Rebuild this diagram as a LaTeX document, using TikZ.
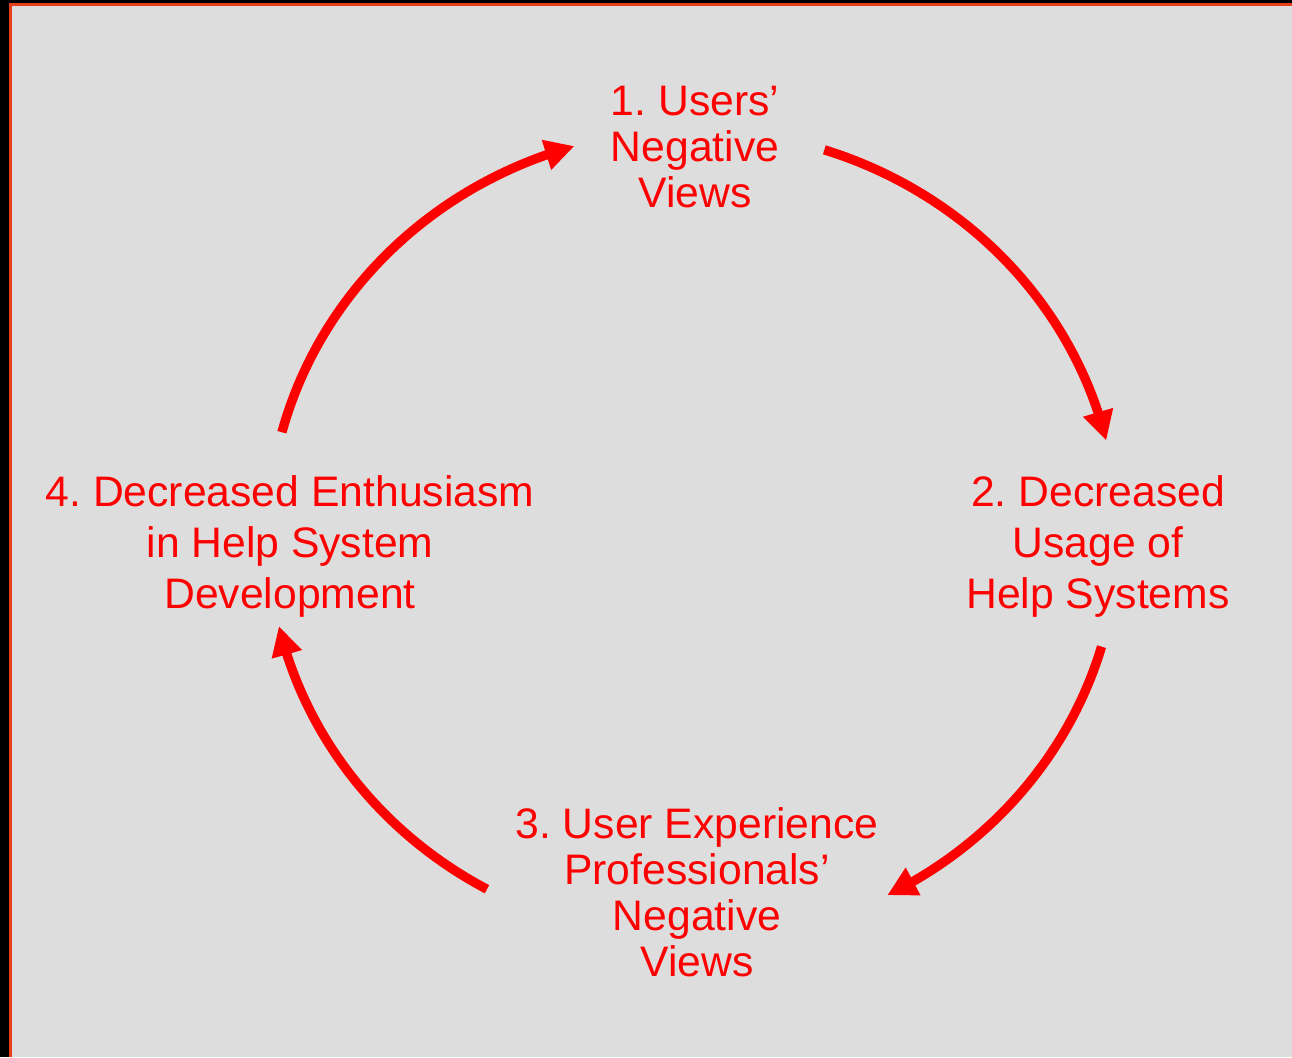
\documentclass[tikz,border=0pt]{standalone}
\usepackage{fontspec}
\setmainfont{Liberation Sans}
\frenchspacing
\usetikzlibrary{arrows.meta,bending}
\definecolor{slidegray}{HTML}{DDDDDD}
\definecolor{framered}{RGB}{230,62,24}
\definecolor{cyclered}{HTML}{FF0000}
\begin{document}
\begin{tikzpicture}[x=0.75pt,y=-0.75pt,
  stage/.style={text=cyclered, font=\fontsize{32}{34.5}\selectfont,
    align=center, inner sep=0pt, anchor=north},
  widestage/.style={stage, font=\fontsize{32}{38.25}\selectfont},
  loopedge/.style={draw=cyclered, line width=7pt,
    -{Triangle[length=22pt,width=22pt]}}]
\useasboundingbox (0,0) rectangle (1292,1057);
% slide background with its frame
\fill[black] (0,0) rectangle (1292,1057);
\fill[framered] (9,3) rectangle (1292,1057);
\fill[slidegray] (12,6) rectangle (1292,1057);

% the four stages of the cycle
\node[stage] (views) at (695,86) {1. Users'\\Negative\\Views};
\node[widestage] (usage) at (1098,475) {2. Decreased\\Usage of\\Help Systems};
\node[stage] (uxviews) at (697,807) {3. User Experience\\Professionals'\\Negative\\Views};
\node[widestage] (enthus) at (290,475) {4. Decreased Enthusiasm\\in Help System\\Development};

% centre of the loop
\coordinate (hub) at (693,535);

% arcs between the stages
\draw[loopedge] ([shift={(-72:425 and 405)}]hub)
  arc[start angle=-72, end angle=-13.5, x radius=425, y radius=405];
\draw[loopedge] ([shift={(16:425 and 405)}]hub)
  arc[start angle=16, end angle=62.8, x radius=425, y radius=405];
\draw[loopedge] ([shift={(119:425 and 405)}]hub)
  arc[start angle=119, end angle=167, x radius=425, y radius=405];
\draw[loopedge] ([shift={(194.7:425 and 405)}]hub)
  arc[start angle=194.7, end angle=253.8, x radius=425, y radius=405];
\end{tikzpicture}
\end{document}
